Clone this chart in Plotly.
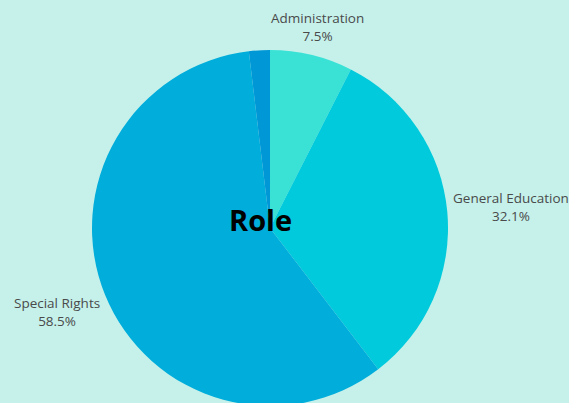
import math
import plotly.graph_objects as go

labels = ["Administration", "General Education", "Special Rights", "Other"]
values = [7.5, 32.1, 58.5, 1.9]
colors = ["#3ae2d6", "#00cadb", "#00addb", "#0097d6"]
show_label = [True, True, True, False]

W, H = 569, 406
ML, MR, MT, MB = 0, 29, 50, 0
PW, PH = W - ML - MR, H - MT - MB
CX, CY = ML + PW / 2, MT + PH / 2
R = min(PW, PH) / 2

# label placement relative to slice edge midpoint: (dx, dy, xanchor, yanchor)
label_style = {
    "Administration": (6, -8, "center", "bottom"),
    "General Education": (4, -5, "left", "middle"),
    "Special Rights": (-3, 17, "right", "middle"),
}

fig = go.Figure(go.Pie(
    labels=labels,
    values=values,
    sort=False,
    direction="clockwise",
    rotation=0,
    marker=dict(colors=colors, line=dict(width=0)),
    textinfo="none",
    showlegend=False,
    automargin=False,
    hoverinfo="label+percent",
))

total = sum(values)
cum = 0.0
for lab, v, show in zip(labels, values, show_label):
    mid = (cum + v / 2) / total * 2 * math.pi
    cum += v
    if not show:
        continue
    px = CX + R * math.sin(mid)
    py = CY - R * math.cos(mid)
    dx, dy, xa, ya = label_style[lab]
    fig.add_annotation(
        text=f"{lab}<br>{v / total * 100:.1f}%",
        x=(px + dx - ML) / PW, y=1 - (py + dy - MT) / PH,
        xref="paper", yref="paper", xanchor=xa, yanchor=ya,
        showarrow=False, align="center",
        font=dict(family="Open Sans", size=13.5, color="#4a4a4a"),
    )

fig.add_annotation(
    text="<b>Role</b>",
    x=(260 - ML) / PW, y=1 - (219 - MT) / PH,
    xref="paper", yref="paper", xanchor="center", yanchor="middle",
    showarrow=False, font=dict(family="Open Sans", size=29, color="#000000"),
)

fig.update_layout(
    width=W, height=H,
    margin=dict(l=ML, r=MR, t=MT, b=MB, autoexpand=False),
    paper_bgcolor="#c5f1ea",
    plot_bgcolor="#c5f1ea",
    font=dict(family="Open Sans"),
)

fig.write_html("out.html")
